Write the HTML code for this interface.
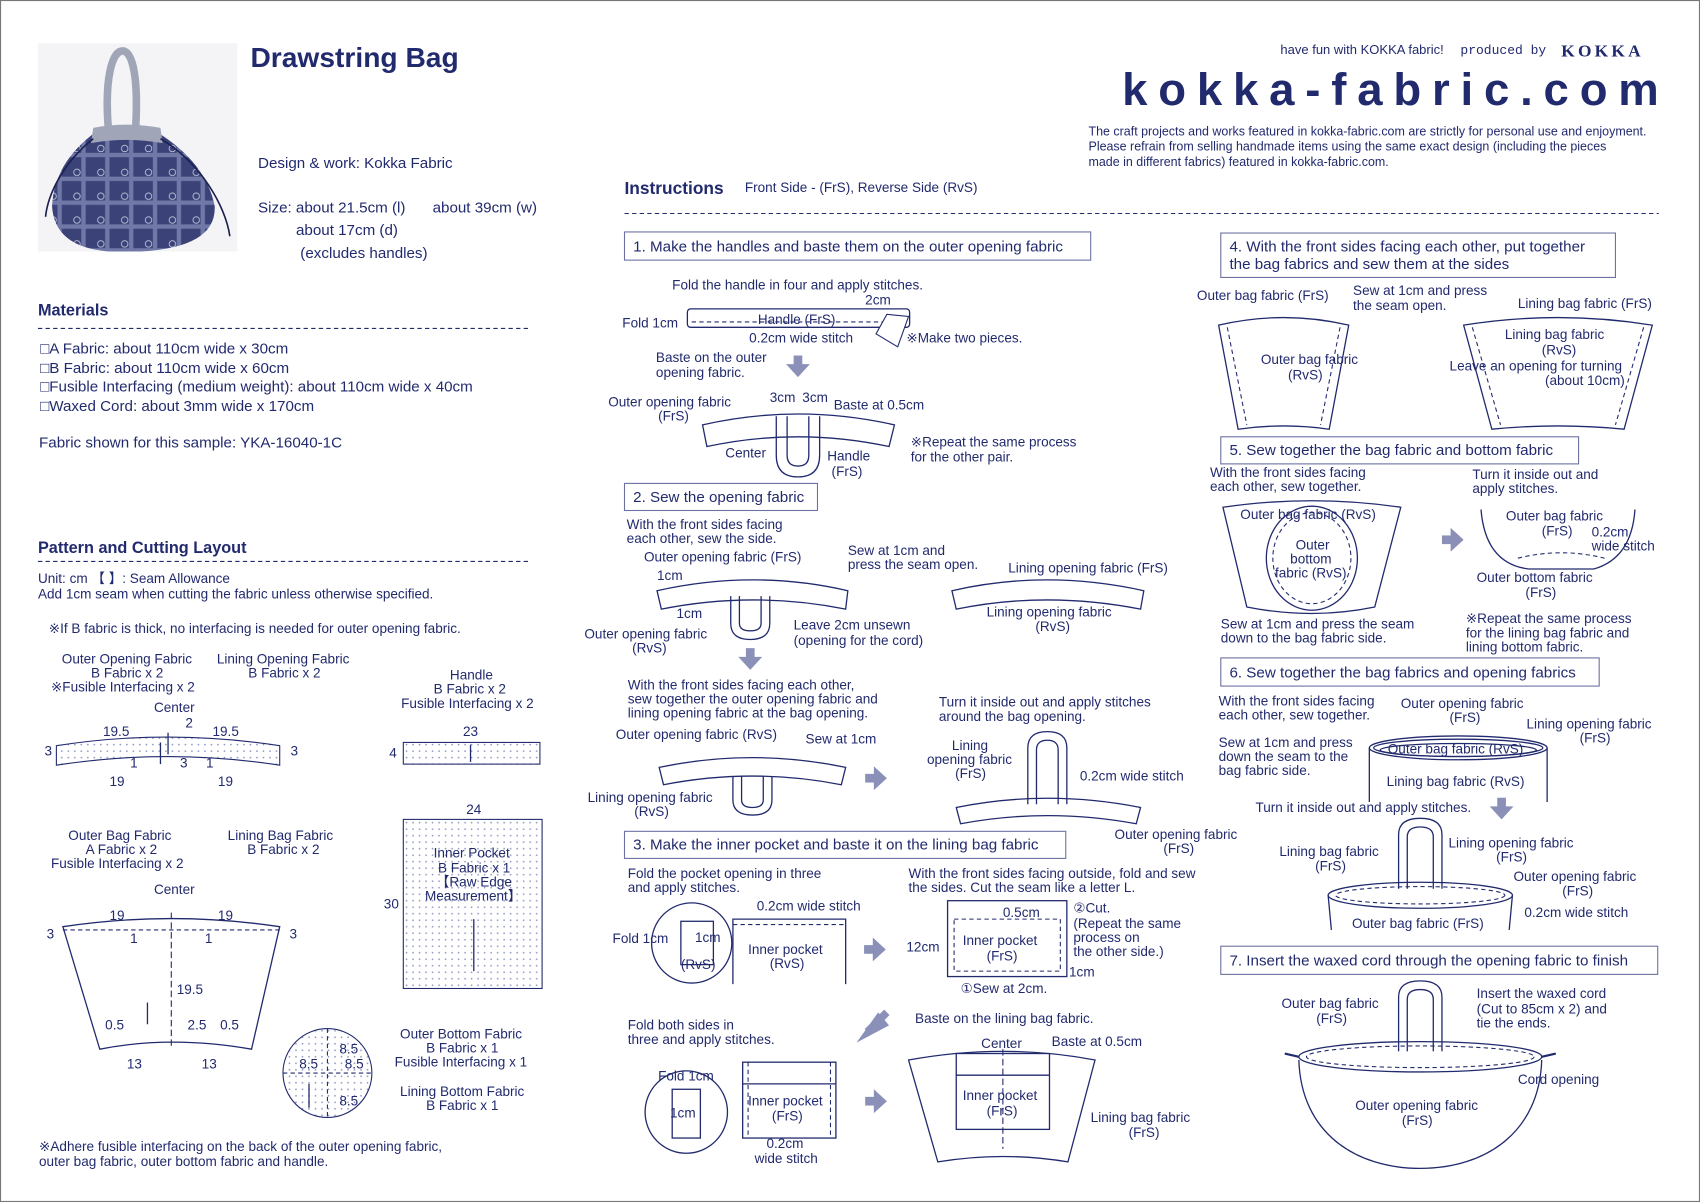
<!DOCTYPE html>
<html><head><meta charset="utf-8"><style>
html,body{margin:0;padding:0;background:#fff;}
svg{display:block;}
text{font-family:"Liberation Sans",sans-serif;fill:#222a6e;font-size:12.5px;}
.b{font-weight:bold;}
.s{fill:none;stroke:#222a6e;stroke-width:1.2;}
.d{fill:none;stroke:#222a6e;stroke-width:1;stroke-dasharray:4 3;}
.ar{fill:#8a90b8;}
.bx{fill:#fff;stroke:#6a70a0;stroke-width:1;}
</style></head><body>
<svg width="1700" height="1202" viewBox="0 0 1568 1109" preserveAspectRatio="none" xmlns="http://www.w3.org/2000/svg">
<defs>
<pattern id="dots" width="6" height="6" patternUnits="userSpaceOnUse"><circle cx="3" cy="3" r="0.8" fill="#8a90c0"/></pattern>
<pattern id="plaid" width="22" height="22" patternUnits="userSpaceOnUse"><rect width="22" height="22" fill="#3a4278"/><rect x="0" y="9" width="22" height="4" fill="#7078a8"/><rect x="9" y="0" width="4" height="22" fill="#7078a8"/><circle cx="5" cy="5" r="3" fill="none" stroke="#c0c4dc" stroke-width="0.8"/></pattern>
<g id="dn"><rect x="-4" y="-10" width="8" height="10" class="ar"/><polygon points="-11,-2 11,-2 0,10" class="ar"/></g>
<g id="rt"><rect x="-10" y="-4" width="10" height="8" class="ar"/><polygon points="-2,-11 -2,11 10,0" class="ar"/></g>
</defs>
<rect x="0.5" y="0.5" width="1567" height="1108" fill="none" stroke="#777" stroke-width="1"/>
<!-- photo -->
<rect x="35" y="40" width="184" height="192" fill="#f4f4f6"/>
<path d="M100,120 C96,70 104,47 113,47 C122,47 128,70 125,120" fill="none" stroke="#a0a6b8" stroke-width="7"/>
<path d="M88,122 Q115,115 145,122 Q190,150 198,190 Q200,228 130,232 L100,232 Q50,228 48,190 Q50,150 88,122Z" fill="url(#plaid)"/>
<path d="M86,118 Q115,112 148,118 L150,132 Q115,126 84,132Z" fill="#a0a6b8"/>
<path d="M148,128 C185,150 208,190 212,218 M86,128 C58,150 44,180 42,200" stroke="#1a2050" stroke-width="1.5" fill="none"/>
<text x="231" y="62" class="b" style="font-size:26px">Drawstring Bag</text>
<text x="238" y="155" style="font-size:14px">Design &amp; work: Kokka Fabric</text>
<text x="238" y="196" style="font-size:14px">Size: about 21.5cm (l)</text><text x="399" y="196" style="font-size:14px">about 39cm (w)</text>
<text x="273" y="217" style="font-size:14px">about 17cm (d)</text>
<text x="277" y="238" style="font-size:14px">(excludes handles)</text>
<text x="35" y="291" class="b" style="font-size:15px">Materials</text>
<line x1="35" y1="303" x2="487" y2="303" class="d"/>
<text x="37" y="326" style="font-size:14px">□A Fabric: about 110cm wide x 30cm</text>
<text x="37" y="344" style="font-size:14px">□B Fabric: about 110cm wide x 60cm</text>
<text x="37" y="361" style="font-size:14px">□Fusible Interfacing (medium weight): about 110cm wide x 40cm</text>
<text x="37" y="379" style="font-size:14px">□Waxed Cord: about 3mm wide x 170cm</text>
<text x="36" y="413" style="font-size:14px">Fabric shown for this sample: YKA-16040-1C</text>
<text x="35" y="510" class="b" style="font-size:15px">Pattern and Cutting Layout</text>
<line x1="35" y1="518" x2="487" y2="518" class="d"/>
<text x="35" y="538">Unit: cm 【   】: Seam Allowance</text>
<text x="35" y="552">Add 1cm seam when cutting the fabric unless otherwise specified.</text>
<text x="45" y="584">※If B fabric is thick, no interfacing is needed for outer opening fabric.</text>
<text x="57" y="612">Outer Opening Fabric</text><text x="84" y="625">B Fabric x 2</text><text x="47" y="638">※Fusible Interfacing x 2</text>
<text x="200" y="612">Lining Opening Fabric</text><text x="229" y="625">B Fabric x 2</text>
<text x="142" y="657">Center</text><text x="171" y="671">2</text>
<text x="95" y="679">19.5</text><text x="196" y="679">19.5</text>
<text x="41" y="697">3</text><text x="268" y="697">3</text><text x="166" y="708">3</text><text x="120" y="708">1</text><text x="190" y="708">1</text>
<text x="101" y="725">19</text><text x="201" y="725">19</text>
<path d="M52,688 Q155,672 258,688 L258,706 Q155,690 52,706Z" fill="url(#dots)" stroke="#222a6e"/>
<line x1="155" y1="676" x2="155" y2="696" class="s"/><line x1="148" y1="685" x2="148" y2="705" class="s"/>
<text x="415" y="627">Handle</text><text x="400" y="640">B Fabric x 2</text><text x="370" y="653">Fusible Interfacing x 2</text>
<text x="427" y="679">23</text><text x="359" y="699">4</text>
<rect x="372" y="685" width="126" height="20" fill="url(#dots)" stroke="#222a6e"/>
<line x1="434" y1="687" x2="434" y2="703" class="s"/>
<text x="63" y="775">Outer Bag Fabric</text><text x="79" y="788">A Fabric x 2</text><text x="47" y="801">Fusible Interfacing x 2</text>
<text x="210" y="775">Lining Bag Fabric</text><text x="228" y="788">B Fabric x 2</text>
<text x="142" y="825">Center</text>
<text x="101" y="849">19</text><text x="201" y="849">19</text><text x="43" y="866">3</text><text x="267" y="866">3</text>
<text x="120" y="870">1</text><text x="189" y="870">1</text>
<path d="M58,855 Q158,840 258,855 L232,968 Q158,955 92,968Z" fill="none" stroke="#222a6e" stroke-width="1.2"/>
<line x1="58" y1="858" x2="258" y2="858" class="d"/>
<line x1="158" y1="842" x2="158" y2="965" stroke="#222a6e" stroke-dasharray="6 3"/>
<text x="163" y="917">19.5</text>
<line x1="136" y1="925" x2="136" y2="945" class="s"/>
<text x="97" y="950">0.5</text><text x="173" y="950">2.5</text><text x="203" y="950">0.5</text>
<text x="117" y="986">13</text><text x="186" y="986">13</text>
<text x="430" y="751">24</text>
<rect x="372" y="756" width="128" height="156" fill="url(#dots)" stroke="#222a6e"/>
<text x="354" y="838">30</text>
<text x="400" y="791">Inner Pocket</text><text x="404" y="805">B Fabric x 1</text><text x="402" y="818">【Raw Edge</text><text x="392" y="831">Measurement】</text>
<line x1="437" y1="848" x2="437" y2="896" class="s"/>
<circle cx="302" cy="990" r="41" fill="url(#dots)" stroke="#222a6e"/>
<line x1="261" y1="990" x2="343" y2="990" class="d"/><line x1="302" y1="949" x2="302" y2="1031" class="d"/>
<text x="313" y="972">8.5</text><text x="276" y="986">8.5</text><text x="318" y="986">8.5</text><text x="313" y="1020">8.5</text>
<line x1="285" y1="1000" x2="285" y2="1022" class="s"/>
<text x="369" y="958">Outer Bottom Fabric</text><text x="393" y="971">B Fabric x 1</text><text x="364" y="984">Fusible Interfacing x 1</text>
<text x="369" y="1011">Lining Bottom Fabric</text><text x="393" y="1024">B Fabric x 1</text>
<text x="36" y="1062">※Adhere fusible interfacing on the back of the outer opening fabric,</text>
<text x="36" y="1076">outer bag fabric, outer bottom fabric and handle.</text>
<!-- header right -->
<text x="1181" y="50" style="font-size:12px">have fun with KOKKA fabric!</text>
<text x="1347" y="50" style="font-family:'Liberation Mono',monospace;font-size:12px">produced by</text>
<text x="1440" y="52" style="font-family:'Liberation Serif',serif;font-size:16px;letter-spacing:3px" class="b">KOKKA</text>
<text x="1035" y="97" textLength="495" lengthAdjust="spacing" style="font-size:42px" class="b">kokka-fabric.com</text>
<text x="1004" y="125" style="font-size:11.5px">The craft projects and works featured in kokka-fabric.com are strictly for personal use and enjoyment.</text>
<text x="1004" y="139" style="font-size:11.5px">Please refrain from selling handmade items using the same exact design (including the pieces</text>
<text x="1004" y="153" style="font-size:11.5px">made in different fabrics) featured in kokka-fabric.com.</text>
<text x="576" y="179" class="b" style="font-size:16px">Instructions</text>
<text x="687" y="177">Front Side - (FrS), Reverse Side (RvS)</text>
<line x1="576" y1="197" x2="1530" y2="197" class="d"/>
<!-- step boxes -->
<rect x="576" y="214" width="430" height="26" class="bx"/><text x="584" y="232" style="font-size:14px">1. Make the handles and baste them on the outer opening fabric</text>
<rect x="576" y="446" width="178" height="25" class="bx"/><text x="584" y="463" style="font-size:14px">2. Sew the opening fabric</text>
<rect x="576" y="767" width="407" height="25" class="bx"/><text x="584" y="784" style="font-size:14px">3. Make the inner pocket and baste it on the lining bag fabric</text>
<rect x="1126" y="215" width="364" height="41" class="bx"/><text x="1134" y="232" style="font-size:14px">4. With the front sides facing each other, put together</text><text x="1134" y="248" style="font-size:14px">the bag fabrics and sew them at the sides</text>
<rect x="1126" y="403" width="330" height="25" class="bx"/><text x="1134" y="420" style="font-size:14px">5. Sew together the bag fabric and bottom fabric</text>
<rect x="1126" y="607" width="349" height="26" class="bx"/><text x="1134" y="625" style="font-size:14px">6. Sew together the bag fabrics and opening fabrics</text>
<rect x="1126" y="873" width="403" height="26" class="bx"/><text x="1134" y="891" style="font-size:14px">7. Insert the waxed cord through the opening fabric to finish</text>
<!-- step1 -->
<text x="620" y="267">Fold the handle in four and apply stitches.</text>
<text x="798" y="281">2cm</text>
<text x="574" y="302">Fold 1cm</text>
<rect x="634" y="285" width="205" height="17" rx="3" class="s"/>
<line x1="638" y1="297" x2="830" y2="297" class="d"/>
<text x="699" y="299">Handle (FrS)</text>
<path d="M818,290 L838,292 L828,320 L808,308Z" fill="#fff" stroke="#222a6e"/>
<text x="691" y="316">0.2cm wide stitch</text>
<text x="836" y="316">※Make two pieces.</text>
<text x="605" y="334">Baste on the outer</text><text x="605" y="348">opening fabric.</text>
<use href="#dn" x="736" y="338"/>
<text x="710" y="371">3cm</text><text x="740" y="371">3cm</text><text x="769" y="378">Baste at 0.5cm</text>
<text x="561" y="375">Outer opening fabric</text><text x="607" y="388">(FrS)</text>
<path d="M648,392 Q736,372 825,392 L820,412 Q736,394 652,412Z" class="s" fill="#fff"/>
<path d="M716,384 L716,420 Q716,440 736,440 Q756,440 756,420 L756,384 M726,384 L726,420 Q726,430 736,430 Q746,430 746,420 L746,384" class="s"/>
<text x="669" y="422">Center</text><text x="763" y="425">Handle</text><text x="767" y="439">(FrS)</text>
<text x="840" y="412">※Repeat the same process</text><text x="840" y="426">for the other pair.</text>
<!-- step2 -->
<text x="578" y="488">With the front sides facing</text><text x="578" y="501">each other, sew the side.</text>
<text x="594" y="518">Outer opening fabric (FrS)</text>
<text x="782" y="512">Sew at 1cm and</text><text x="782" y="525">press the seam open.</text>
<text x="606" y="535">1cm</text><text x="624" y="570">1cm</text>
<path d="M606,545 Q695,525 782,545 L780,562 Q695,545 610,562Z" class="s" fill="#fff"/>
<path d="M674,550 L674,575 Q674,590 692,590 Q710,590 710,575 L710,550 M682,550 L682,575 Q682,582 692,582 Q702,582 702,575 L702,550" class="s"/>
<text x="539" y="589">Outer opening fabric</text><text x="583" y="602">(RvS)</text>
<text x="732" y="581">Leave 2cm unsewn</text><text x="732" y="595">(opening for the cord)</text>
<text x="930" y="528">Lining opening fabric (FrS)</text>
<path d="M878,545 Q965,525 1055,545 L1052,562 Q965,545 882,562Z" class="s" fill="#fff"/>
<text x="910" y="569">Lining opening fabric</text><text x="955" y="582">(RvS)</text>
<use href="#dn" x="692" y="608"/>
<text x="579" y="636">With the front sides facing each other,</text>
<text x="579" y="649">sew together the outer opening fabric and</text>
<text x="579" y="662">lining opening fabric at the bag opening.</text>
<text x="568" y="682">Outer opening fabric (RvS)</text><text x="743" y="686">Sew at 1cm</text>
<path d="M608,708 Q694,690 780,708 L776,724 Q694,708 612,724Z" class="s" fill="#fff"/>
<path d="M676,716 L676,738 Q676,752 694,752 Q712,752 712,738 L712,716 M684,716 L684,738 Q684,745 694,745 Q704,745 704,738 L704,716" class="s"/>
<text x="542" y="740">Lining opening fabric</text><text x="585" y="753">(RvS)</text>
<use href="#rt" x="808" y="718"/>
<text x="866" y="652">Turn it inside out and apply stitches</text><text x="866" y="665">around the bag opening.</text>
<text x="878" y="692">Lining</text><text x="855" y="705">opening fabric</text><text x="881" y="718">(FrS)</text>
<path d="M948,742 L948,690 Q948,675 966,675 Q984,675 984,690 L984,742 M956,742 L956,692 Q956,683 966,683 Q976,683 976,692 L976,742" class="s"/>
<path d="M882,745 Q966,728 1052,745 L1048,760 Q966,745 886,760Z" class="s" fill="#fff"/>
<text x="996" y="720">0.2cm wide stitch</text>
<text x="1028" y="774">Outer opening fabric</text><text x="1073" y="787">(FrS)</text>
<!-- step3 -->
<text x="579" y="810">Fold the pocket opening in three</text><text x="579" y="823">and apply stitches.</text>
<text x="698" y="840">0.2cm wide stitch</text>
<circle cx="638" cy="870" r="37" class="s"/>
<rect x="628" y="850" width="30" height="40" class="s"/>
<text x="641" y="869">1cm</text><text x="628" y="894">(RvS)</text>
<text x="565" y="870">Fold 1cm</text>
<path d="M676,908 L676,848 L780,848 L780,908" class="s"/><line x1="676" y1="853" x2="780" y2="853" class="d"/>
<text x="690" y="880">Inner pocket</text><text x="710" y="893">(RvS)</text>
<use href="#rt" x="807" y="876"/>
<text x="838" y="810">With the front sides facing outside, fold and sew</text>
<text x="838" y="823">the sides. Cut the seam like a letter L.</text>
<rect x="874" y="831" width="110" height="70" class="s"/>
<rect x="880" y="848" width="98" height="48" class="d"/>
<text x="925" y="846">0.5cm</text><text x="990" y="842">②Cut.</text>
<text x="990" y="856">(Repeat the same</text><text x="990" y="869">process on</text><text x="990" y="882">the other side.)</text>
<text x="888" y="872">Inner pocket</text><text x="910" y="886">(FrS)</text>
<text x="836" y="878">12cm</text>
<text x="886" y="916">①Sew at 2cm.</text><text x="986" y="901">1cm</text>
<polygon points="790,962 810,934 820,946 Z" class="ar"/><line x1="818" y1="934" x2="800" y2="952" stroke="#8a90b8" stroke-width="7"/>
<text x="579" y="950">Fold both sides in</text><text x="579" y="963">three and apply stitches.</text>
<text x="844" y="944">Baste on the lining bag fabric.</text>
<circle cx="633" cy="1026" r="38" class="s"/>
<text x="607" y="997">Fold 1cm</text>
<rect x="620" y="1005" width="26" height="45" class="s"/><text x="618" y="1031">1cm</text>
<rect x="685" y="980" width="86" height="70" class="s"/><line x1="690" y1="980" x2="690" y2="1050" class="d"/><line x1="766" y1="980" x2="766" y2="1050" class="d"/><line x1="685" y1="1000" x2="771" y2="1000" class="s"/>
<text x="690" y="1020">Inner pocket</text><text x="712" y="1034">(FrS)</text>
<text x="707" y="1059">0.2cm</text><text x="696" y="1073">wide stitch</text>
<use href="#rt" x="808" y="1016"/>
<path d="M838,978 Q925,962 1010,978 L985,1072 Q925,1062 865,1072Z" class="s"/>
<line x1="925" y1="968" x2="925" y2="1060" stroke="#222a6e" stroke-dasharray="6 3"/>
<rect x="882" y="972" width="86" height="70" class="s" fill="#fff"/><line x1="882" y1="992" x2="968" y2="992" class="s"/>
<text x="905" y="967">Center</text><text x="970" y="965">Baste at 0.5cm</text>
<text x="888" y="1015">Inner pocket</text><text x="910" y="1029">(FrS)</text>
<text x="1006" y="1035">Lining bag fabric</text><text x="1041" y="1049">(FrS)</text>
<!-- step4 -->
<text x="1104" y="277">Outer bag fabric (FrS)</text>
<text x="1248" y="272">Sew at 1cm and press</text><text x="1248" y="286">the seam open.</text>
<text x="1400" y="284">Lining bag fabric (FrS)</text>
<path d="M1124,300 Q1184,286 1244,300 L1226,396 Q1184,390 1142,396Z" class="s"/>
<path d="M1132,302 L1150,392 M1236,302 L1218,392" class="d"/>
<text x="1163" y="336">Outer bag fabric</text><text x="1188" y="350">(RvS)</text>
<path d="M1350,300 Q1437,286 1524,300 L1498,396 Q1437,390 1376,396Z" class="s"/>
<path d="M1358,302 L1384,392 M1516,302 L1490,392" class="d"/>
<text x="1388" y="313">Lining bag fabric</text><text x="1422" y="327">(RvS)</text>
<text x="1337" y="342">Leave an opening for turning</text><text x="1425" y="355">(about 10cm)</text>
<!-- step5 -->
<text x="1116" y="440">With the front sides facing</text><text x="1116" y="453">each other, sew together.</text>
<path d="M1128,468 Q1210,456 1292,468 L1268,560 Q1210,572 1150,560Z" class="s"/>
<ellipse cx="1210" cy="515" rx="42" ry="48" class="s" fill="#fff"/><ellipse cx="1210" cy="515" rx="36" ry="42" class="d"/>
<text x="1144" y="479">Outer bag fabric (RvS)</text>
<text x="1195" y="507">Outer</text><text x="1190" y="520">bottom</text><text x="1176" y="533">fabric (RvS)</text>
<text x="1126" y="580">Sew at 1cm and press the seam</text><text x="1126" y="593">down to the bag fabric side.</text>
<use href="#rt" x="1340" y="498"/>
<text x="1358" y="442">Turn it inside out and</text><text x="1358" y="455">apply stitches.</text>
<path d="M1366,470 Q1370,520 1410,525 L1470,525 Q1505,515 1508,470" class="s"/>
<path d="M1400,515 Q1440,505 1480,515" class="d"/>
<text x="1389" y="480">Outer bag fabric</text><text x="1422" y="494">(FrS)</text>
<text x="1468" y="495">0.2cm</text><text x="1468" y="508">wide stitch</text>
<text x="1362" y="537">Outer bottom fabric</text><text x="1407" y="551">(FrS)</text>
<text x="1352" y="575">※Repeat the same process</text><text x="1352" y="588">for the lining bag fabric and</text><text x="1352" y="601">lining bottom fabric.</text>
<!-- step6 -->
<text x="1124" y="651">With the front sides facing</text><text x="1124" y="664">each other, sew together.</text>
<text x="1292" y="653">Outer opening fabric</text><text x="1337" y="666">(FrS)</text>
<text x="1408" y="672">Lining opening fabric</text><text x="1457" y="685">(FrS)</text>
<text x="1124" y="689">Sew at 1cm and press</text><text x="1124" y="702">down the seam to the</text><text x="1124" y="715">bag fabric side.</text>
<ellipse cx="1345" cy="690" rx="82" ry="11" class="s"/><ellipse cx="1345" cy="690" rx="78" ry="8" class="s"/><ellipse cx="1345" cy="692" rx="72" ry="6" class="s"/>
<path d="M1263,690 L1263,740 M1427,690 L1427,740" class="s"/>
<text x="1280" y="695">Outer bag fabric (RvS)</text>
<text x="1279" y="725">Lining bag fabric (RvS)</text>
<text x="1158" y="749">Turn it inside out and apply stitches.</text>
<use href="#dn" x="1385" y="746"/>
<path d="M1290,820 L1290,770 Q1290,755 1310,755 Q1330,755 1330,770 L1330,820 M1298,820 L1298,772 Q1298,763 1310,763 Q1322,763 1322,772 L1322,820" class="s"/>
<ellipse cx="1310" cy="826" rx="85" ry="12" class="s"/><ellipse cx="1310" cy="826" rx="78" ry="8" class="d"/>
<path d="M1225,826 L1228,858 M1395,826 L1392,858" class="s"/>
<text x="1180" y="790">Lining bag fabric</text><text x="1213" y="803">(FrS)</text>
<text x="1336" y="782">Lining opening fabric</text><text x="1380" y="795">(FrS)</text>
<text x="1396" y="813">Outer opening fabric</text><text x="1441" y="826">(FrS)</text>
<text x="1406" y="846">0.2cm wide stitch</text>
<text x="1247" y="856">Outer bag fabric (FrS)</text>
<!-- step7 -->
<text x="1182" y="930">Outer bag fabric</text><text x="1214" y="944">(FrS)</text>
<path d="M1290,970 L1290,920 Q1290,905 1310,905 Q1330,905 1330,920 L1330,970 M1298,970 L1298,922 Q1298,913 1310,913 Q1322,913 1322,922 L1322,970" class="s"/>
<ellipse cx="1310" cy="975" rx="112" ry="14" class="s"/><ellipse cx="1310" cy="975" rx="105" ry="10" class="d"/>
<path d="M1198,978 C1200,1045 1250,1078 1310,1078 C1370,1078 1420,1045 1422,978" class="s"/>
<path d="M1198,975 L1185,972 M1422,975 L1435,972" stroke="#222a6e" stroke-width="2"/>
<text x="1362" y="921">Insert the waxed cord</text><text x="1362" y="935">(Cut to 85cm x 2) and</text><text x="1362" y="948">tie the ends.</text>
<text x="1400" y="1000">Cord opening</text>
<text x="1250" y="1024">Outer opening fabric</text><text x="1293" y="1038">(FrS)</text>
</svg>
</body></html>
